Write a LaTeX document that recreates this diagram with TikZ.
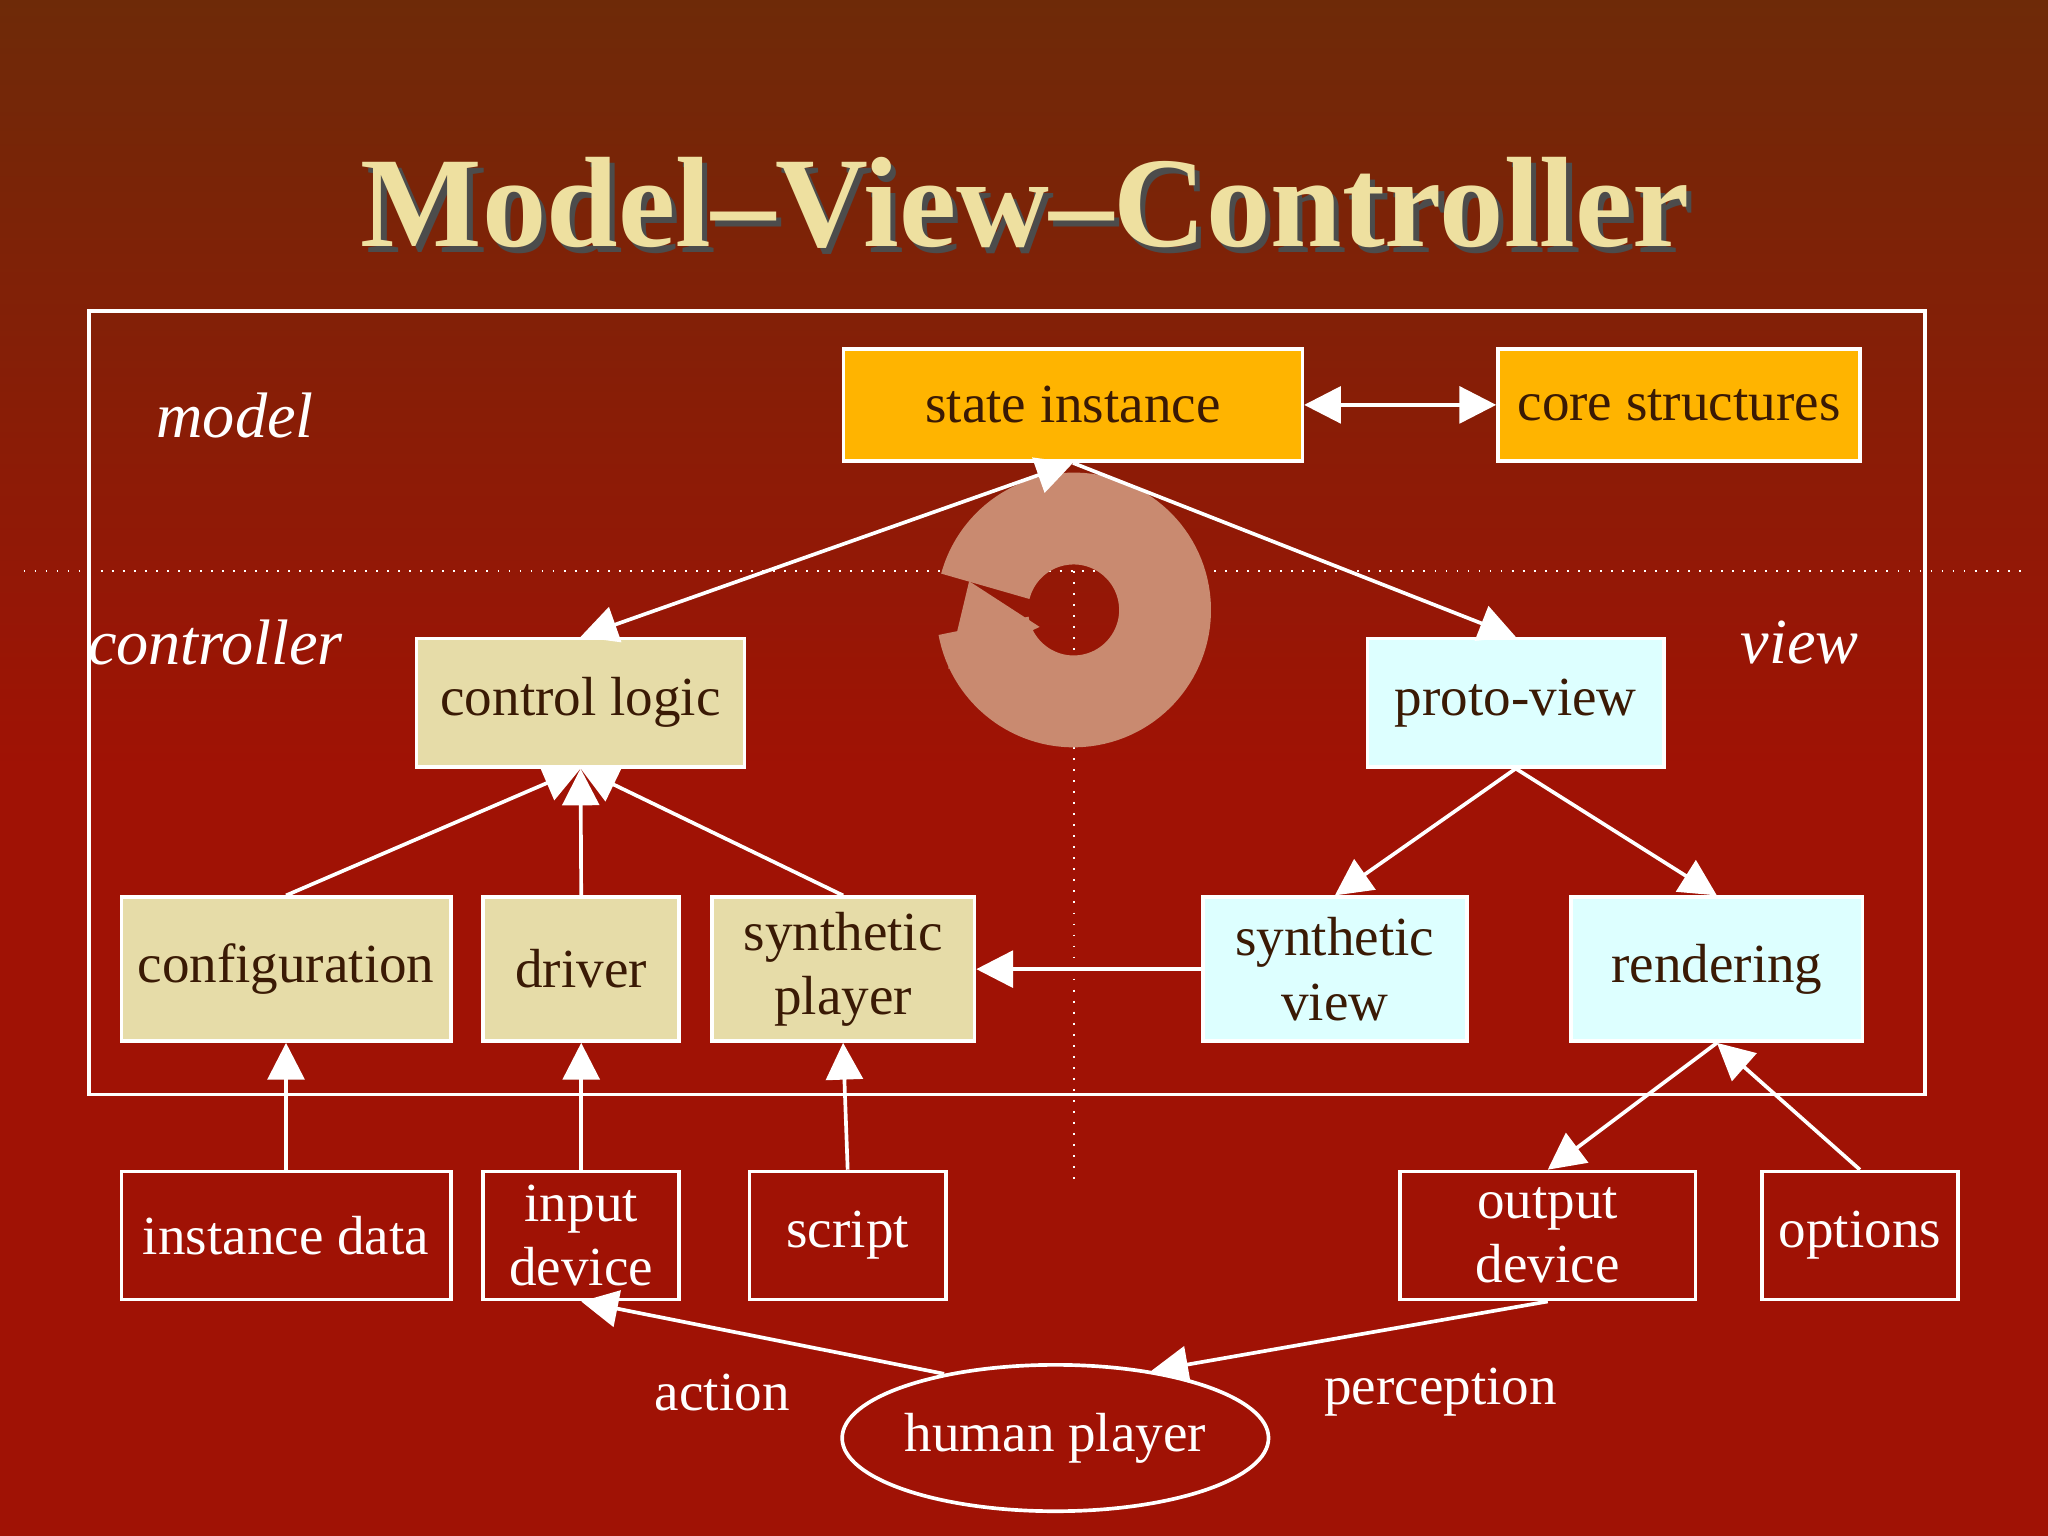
\documentclass[tikz,border=0pt]{standalone}
\usepackage{fontspec}
\setmainfont{Liberation Serif}
\usetikzlibrary{arrows.meta,shapes.geometric}
\definecolor{bgtop}{HTML}{6E2A08}
\definecolor{bgbot}{HTML}{A01205}
\definecolor{titlec}{HTML}{EEE0A0}
\definecolor{statec}{HTML}{FFB400}
\definecolor{ctrlc}{HTML}{E6DCA8}
\definecolor{viewc}{HTML}{DDFFFF}
\definecolor{inkc}{HTML}{3A1A05}
\definecolor{cyclec}{HTML}{C98A70}
\begin{document}
\begin{tikzpicture}[x=0.01cm,y=-0.01cm,
  box/.style={draw=white,line width=0.8pt,font=\fontsize{12}{14}\selectfont,align=center,inner sep=0pt},
  fbox/.style={box,text=inkc},
  obox/.style={box,text=white},
  lab/.style={text=white,font=\fontsize{12}{14}\selectfont},
  arr/.style={draw=white,line width=0.8pt,-{Triangle[width=8pt,length=8pt]}},
  barr/.style={draw=white,line width=0.8pt,{Triangle[width=8pt,length=8pt]}-{Triangle[width=8pt,length=8pt]}}]
\shade[top color=bgtop,bottom color=bgbot,middle color=bgbot] (0,0) rectangle (1568,1176);
\useasboundingbox (0,0) rectangle (1568,1176);
% title
\node[text=black!70,font=\bfseries\fontsize{28}{30}\selectfont] at (789,160) {Model--View--Controller};
\node[text=titlec,font=\bfseries\fontsize{28}{30}\selectfont] (title) at (785,155) {Model--View--Controller};
% frame and separators
\draw[white,line width=0.8pt] (68,238) rectangle (1474,838);
\draw[white,dotted] (18,437) -- (1548,437);
\draw[white,dotted] (822,437) -- (822,905);
% cycle arrow
\draw[cyclec,line width=20pt] (822,467) ++(170:70) arc[start angle=170,end angle=-165,radius=70];
\fill[cyclec] (726,512) -- (742,445) -- (796,480) -- cycle;
% model row
\node[fbox,fill=statec,minimum width=3.51cm,minimum height=0.86cm] (state) at (821.5,310) {state instance};
\node[fbox,fill=statec,minimum width=2.77cm,minimum height=0.86cm] (core) at (1285.5,310) {core structures};
% middle row
\node[fbox,fill=ctrlc,minimum width=2.51cm,minimum height=0.98cm] (logic) at (444.5,538) {control logic};
\node[fbox,fill=viewc,minimum width=2.27cm,minimum height=0.98cm] (proto) at (1160.5,538) {proto-view};
\node[fbox,fill=ctrlc,minimum width=2.52cm,minimum height=1.1cm] (config) at (219,742) {configuration};
\node[fbox,fill=ctrlc,minimum width=1.5cm,minimum height=1.1cm] (driver) at (445,742) {driver};
\node[fbox,fill=ctrlc,minimum width=2.01cm,minimum height=1.1cm] (splayer) at (645.5,742) {synthetic\\player};
\node[fbox,fill=viewc,minimum width=2.02cm,minimum height=1.1cm] (sview) at (1022,742) {synthetic\\view};
\node[fbox,fill=viewc,minimum width=2.23cm,minimum height=1.1cm] (render) at (1314.5,742) {rendering};
% bottom row
\node[obox,minimum width=2.52cm,minimum height=0.98cm] (idata) at (219,946) {instance data};
\node[obox,minimum width=1.5cm,minimum height=0.98cm] (input) at (445,946) {input\\device};
\node[obox,minimum width=1.5cm,minimum height=0.98cm] (script) at (649,946) {script};
\node[obox,minimum width=2.26cm,minimum height=0.98cm] (output) at (1185,946) {output\\device};
\node[obox,minimum width=1.5cm,minimum height=0.98cm] (options) at (1424,946) {options};
\node[obox,ellipse,minimum width=3.0cm,minimum height=1.12cm] (human) at (808,1101) {human player};
% labels
\node[lab,font=\itshape\fontsize{14}{15}\selectfont] (lmodel) at (180,318) {model};
\node[lab,font=\itshape\fontsize{14}{15}\selectfont] (lctrl) at (165,492) {controller};
\node[lab,font=\itshape\fontsize{14}{15}\selectfont] (lview) at (1378,492) {view};
\node[lab] (laction) at (553,1066) {action};
\node[lab] (lperc) at (1103,1066) {perception};
% connectors
\draw[barr] (state.east) -- (core.west);
\draw[barr] (state.south) -- (logic.north);
\draw[arr] (state.south) -- (proto.north);
\draw[arr] (config.north) -- (logic.south);
\draw[arr] (driver.north) -- (logic.south);
\draw[arr] (splayer.north) -- (logic.south);
\draw[arr] (proto.south) -- (sview.north);
\draw[arr] (proto.south) -- (render.north);
\draw[arr] (sview.west) -- (splayer.east);
\draw[arr] (idata.north) -- (config.south);
\draw[arr] (input.north) -- (driver.south);
\draw[arr] (script.north) -- (splayer.south);
\draw[arr] (render.south) -- (output.north);
\draw[arr] (options.north) -- (render.south);
\draw[arr] (human.150) -- (input.south);
\draw[arr] (output.south) -- (human.35);
\end{tikzpicture}
\end{document}
